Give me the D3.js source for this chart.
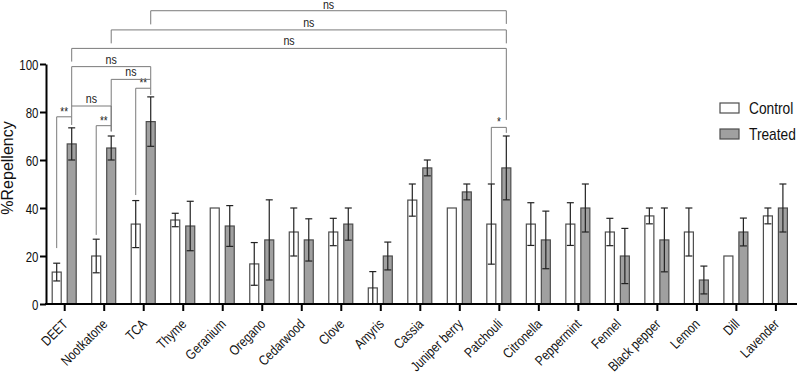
<!DOCTYPE html>
<html>
<head>
<meta charset="utf-8">
<script src="https://cdn.jsdelivr.net/npm/d3@7"></script>
<style>
  html, body { margin: 0; padding: 0; background: #fff; }
  svg { display: block; }
  text { font-family: "Liberation Sans", Arial, Helvetica, sans-serif; }
</style>
</head>
<body>
<svg id="chart" width="797" height="377"></svg>
<script>
// ---------- data ----------
const categories = ["DEET", "Nootkatone", "TCA", "Thyme", "Geranium", "Oregano", "Cedarwood", "Clove", "Amyris", "Cassia",
  "Juniper berry", "Patchouli", "Citronella", "Peppermint", "Fennel", "Black pepper", "Lemon", "Dill", "Lavender"];
const seriesNames = ["Control", "Treated"];
const controlValues = [13.3, 20, 33.3, 35, 40, 16.7, 30, 30, 6.7, 43.3, 40, 33.3, 33.3, 33.3, 30, 36.7, 30, 20, 36.7];
const controlErrors = [3.7, 7, 9.8, 2.8, 0, 8.9, 10, 5.7, 6.8, 6.7, 0, 16.7, 8.9, 8.9, 5.7, 3.3, 10, 0, 3.3];
const treatedValues = [66.7, 65, 76, 32.5, 32.5, 26.7, 26.7, 33.3, 20, 56.7, 46.7, 56.7, 26.7, 40, 20, 26.7, 10, 30, 40];
const treatedErrors = [6.7, 5, 10.3, 10.3, 8.5, 16.7, 8.8, 6.7, 5.8, 3.3, 3.3, 13.3, 12, 10, 11.5, 13.3, 5.8, 5.8, 10];
const yTicks = [0, 20, 40, 60, 80, 100];
const yLabel = "%Repellency";
// significance brackets (levels in %Repellency units)
const bracketFrom   = [["DEET","Control"], ["Nootkatone","Control"], ["TCA","Control"], ["DEET","Treated"], ["Nootkatone","Treated"], ["DEET","Treated"], ["DEET","Treated"], ["Nootkatone","Treated"], ["TCA","Treated"], ["Patchouli","Control"]];
const bracketTo     = [["DEET","Treated"], ["Nootkatone","Treated"], ["TCA","Treated"], ["Nootkatone","Treated"], ["TCA","Treated"], ["TCA","Treated"], ["Patchouli","Treated"], ["Patchouli","Treated"], ["Patchouli","Treated"], ["Patchouli","Treated"]];
const bracketLevel  = [78, 74.3, 89.9, 82.5, 93.6, 98.9, 106.5, 114.2, 122.2, 73.6];
const bracketDropA  = [23.3, 28.8, 45.4, 78, 72, 82.5, 101, 108.6, 116.5, 50];
const bracketDropB  = [74.6, 71.8, 87.1, 74.3, 89.9, 93.6, 76.7, 108.6, 116.7, 71.3];
const bracketLabels = ["**", "**", "**", "ns", "ns", "ns", "ns", "ns", "ns", "*"];

// ---------- layout ----------
const W = 797, H = 377;
const NARROW = 0.82; // horizontal condensing of the sans font
const svg = d3.select("#chart");
const x = d3.scalePoint().domain(categories).range([64.2, 775.4]);
const y = d3.scaleLinear().domain([0, 100]).range([304, 64]);
const xs = d3.scaleOrdinal().domain(seriesNames).range([-7.5, 7.5]);
const barW = 9;
const fills = { Control: "#ffffff", Treated: "#a0a0a0" };
const strokes = { Control: "#4d4d4d", Treated: "#4d4d4d" };

const series = [
  { name: "Control", values: controlValues, errors: controlErrors },
  { name: "Treated", values: treatedValues, errors: treatedErrors }
];
const cx = (cat, s) => x(cat) + xs(s);

function narrowText(sel, tx, ty, extra, k) {
  sel.attr("x", 0).attr("y", 0)
     .attr("transform", `translate(${tx},${ty})${extra || ""} scale(${k || NARROW},1)`);
}

// brackets
const bg = svg.append("g");
bracketLevel.forEach((lv, i) => {
  const xa = cx(bracketFrom[i][0], bracketFrom[i][1]);
  const xb = cx(bracketTo[i][0], bracketTo[i][1]);
  bg.append("path")
    .attr("d", `M${xa},${y(bracketDropA[i])}V${y(lv)}H${xb}V${y(bracketDropB[i])}`)
    .attr("fill", "none").attr("stroke", "#7a7a7a").attr("stroke-width", 1);
  const isNs = bracketLabels[i] === "ns";
  const t = bg.append("text")
    .attr("text-anchor", "middle")
    .attr("font-size", isNs ? 13 : 12)
    .attr("fill", "#222")
    .text(bracketLabels[i]);
  narrowText(t, (xa + xb) / 2, Math.max(y(lv) - (isNs ? 3 : 1), 8.5));
});

// bars
series.forEach(s => {
  const g = svg.append("g");
  g.selectAll("rect").data(categories).join("rect")
    .attr("x", (c) => cx(c, s.name) - barW / 2)
    .attr("y", (c, i) => y(s.values[i]))
    .attr("width", barW)
    .attr("height", (c, i) => y(0) - y(s.values[i]))
    .attr("fill", fills[s.name])
    .attr("stroke", strokes[s.name])
    .attr("stroke-width", 1.2);
  categories.forEach((c, i) => {
    const e = s.errors[i];
    if (!e) return;
    const xc = cx(c, s.name);
    const lo = y(Math.max(0, s.values[i] - e)), hi = y(s.values[i] + e);
    g.append("line").attr("x1", xc).attr("x2", xc).attr("y1", lo).attr("y2", hi)
      .attr("stroke", "#222").attr("stroke-width", 1.2);
    [hi, lo].forEach(yy => {
      if (yy >= y(0) - 0.5) return;
      g.append("line").attr("x1", xc - 3.5).attr("x2", xc + 3.5).attr("y1", yy).attr("y2", yy)
        .attr("stroke", "#222").attr("stroke-width", 1.2);
    });
  });
});

// y axis
const yAxis = svg.append("g").attr("transform", "translate(46,0)")
  .call(d3.axisLeft(y).tickValues(yTicks).tickSize(6).tickSizeOuter(0).tickPadding(2));
yAxis.select(".domain").attr("stroke", "#000").attr("stroke-width", 2);
yAxis.selectAll(".tick line").attr("stroke", "#000").attr("stroke-width", 2);
yAxis.selectAll(".tick text").attr("font-size", 14).attr("fill", "#111")
  .attr("font-family", "'Liberation Sans', Arial, sans-serif")
  .attr("dy", "0.36em")
  .each(function () { narrowText(d3.select(this), -7.5, 0); });

// x axis
const xAxis = svg.append("g").attr("transform", `translate(0,${y(0)})`)
  .call(d3.axisBottom(x).tickSize(7).tickSizeOuter(0));
xAxis.select(".domain").remove();
xAxis.append("line").attr("x1", 45).attr("x2", W).attr("y1", 0).attr("y2", 0)
  .attr("stroke", "#000").attr("stroke-width", 2);
xAxis.selectAll(".tick line").attr("stroke", "#000").attr("stroke-width", 2);
xAxis.selectAll(".tick text")
  .attr("font-family", "'Liberation Sans', Arial, sans-serif")
  .attr("font-size", 14).attr("fill", "#111")
  .attr("text-anchor", "end")
  .attr("dy", 0)
  .each(function () { narrowText(d3.select(this), 4, 21, " rotate(-45)"); });

// y label
svg.append("text")
  .attr("transform", `translate(12.5,${(y(0) + y(100)) / 2 - 16}) rotate(-90)`)
  .attr("text-anchor", "middle")
  .attr("font-size", 16).attr("fill", "#111")
  .text(yLabel);

// legend
const lg = svg.append("g").attr("transform", "translate(720,103)");
seriesNames.forEach((n, i) => {
  lg.append("rect").attr("x", 0).attr("y", i * 26).attr("width", 19).attr("height", 10)
    .attr("fill", fills[n]).attr("stroke", strokes[n]).attr("stroke-width", 1.2);
  const t = lg.append("text").attr("font-size", 16).attr("fill", "#111").text(n);
  narrowText(t, 29, i * 26 + 10.5, "", 0.86);
});
</script>
</body>
</html>
